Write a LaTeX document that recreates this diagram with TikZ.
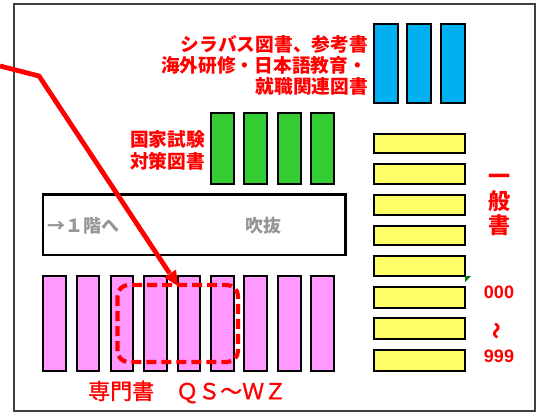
\documentclass[tikz,border=0pt]{standalone}
\usepackage{fontspec}
\usetikzlibrary{calc}
\setmainfont{Noto Sans CJK JP}
\newfontfamily\medfont[FakeBold=1.3]{Noto Sans CJK JP}
\newfontfamily\digits{Liberation Sans}
\definecolor{shelfblue}{HTML}{00B0F0}
\definecolor{shelfgreen}{HTML}{33CC33}
\definecolor{shelfyellow}{HTML}{FFFF66}
\definecolor{shelfpink}{HTML}{FF99FF}
\definecolor{labelgrey}{HTML}{969696}
\definecolor{markgreen}{HTML}{008000}
\tikzset{
  x=1pt,y=-1pt,
  shelf/.style={draw=black,line width=2pt},
  redtext/.style={text=red,inner sep=0pt,font=\bfseries\fontsize{18.7}{18.7}\selectfont},
  greytext/.style={text=labelgrey,inner sep=0pt,font=\bfseries\fontsize{18}{18}\selectfont},
  routeline/.style={draw=red,line width=4.8pt,line join=miter},
}
\begin{document}
\begin{tikzpicture}
\useasboundingbox (0,0) rectangle (544,412);
% outer frame
\draw[draw=black!75,line width=1.3pt] (14,4) rectangle (535,411);
% blue
\foreach \a/\b in {374/398,407/431,441/465}
  \draw[shelf,fill=shelfblue] (\a,24) rectangle (\b,103);
% green
\foreach \a/\b in {211/234,244/267,278/301,311/334}
  \draw[shelf,fill=shelfgreen] (\a,113.5) rectangle (\b,184);
% yellow
\foreach \a/\b in {133.5/153,164/184,194.5/215,225.5/245,255.5/276,286.5/307.5,318/339,349.5/371}
  \draw[shelf,fill=shelfyellow] (374,\a) rectangle (465,\b);
\fill[markgreen] (465,276) -- (471,276) -- (465,282) -- cycle;
% pink
\foreach \a/\b in {43/66,77/99,110.5/133,144/167,177.5/200,211/234,244/267,278/301,311/334}
  \draw[shelf,fill=shelfpink] (\a,275.5) rectangle (\b,371);
% stairwell box
\draw[draw=black,line width=2.8pt] (43,194.5) rectangle (345.5,255);
% labels
\node[redtext,anchor=east] (l1) at (368,44) {シラバス図書、参考書};
\node[redtext,anchor=east] (l2) at (367,65.5) {海外研修・日本語教育・};
\node[redtext,anchor=east] (l3) at (368,86) {就職関連図書};
\node[redtext,anchor=east] (l4) at (205,139.5) {国家試験};
\node[redtext,anchor=east] (l5) at (205,161) {対策図書};
\node[greytext,anchor=west] (g1) at (47,226) {→１階へ};
\node[greytext,anchor=west] (g2) at (245,226) {吹抜};
\node[text=red,inner sep=0pt,anchor=west,font=\medfont\fontsize{22}{22}\selectfont] (l6) at (88,392) {専門書　ＱＳ～ＷＺ};
\node[redtext,align=center,font=\bfseries\fontsize{22}{24.5}\selectfont] (l7) at (499,205) {一\\般\\書};
\node[text=red,inner sep=0pt,font=\digits\bfseries\fontsize{18}{18}\selectfont] (n1) at (499,292.5) {000};
\node[redtext,rotate=90,yscale=1.2,font=\bfseries\fontsize{17}{17}\selectfont] (n2) at (499,331) {～};
\node[text=red,inner sep=0pt,font=\digits\bfseries\fontsize{18}{18}\selectfont] (n3) at (499,356) {999};
% dashed highlight
\draw[draw=red,line width=4.2pt,dash pattern=on 10pt off 5pt,rounded corners=11pt] (117.5,285) rectangle (238,362);
% route arrow
\coordinate (start) at (0,66);
\coordinate (bend) at (39,76);
\coordinate (goal) at (178,286);
\coordinate (neck) at ($(bend)!0.94!(goal)$);
\draw[routeline] (start) -- (bend) -- (neck);
\fill[red] (goal) -- (164.5,277.5) -- (176,269.5) -- cycle;
\end{tikzpicture}
\end{document}
